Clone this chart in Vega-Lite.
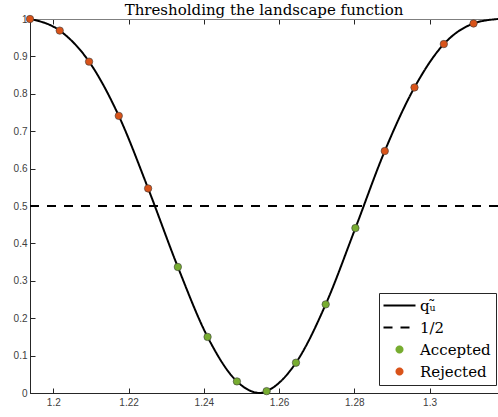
{
  "$schema": "https://vega.github.io/schema/vega-lite/v6.json",
  "width": 468,
  "height": 374,
  "autosize": "none",
  "padding": {"left": 30, "top": 19, "right": 0, "bottom": 24},
  "title": {"text": "Thresholding the landscape function", "font": "DejaVu Serif", "fontSize": 15, "fontWeight": "normal", "color": "#000000", "offset": -4, "frame": "group"},
  "config": {
    "view": {"stroke": "#262626", "strokeWidth": 1},
    "axis": {"grid": false, "domainColor": "#262626", "tickColor": "#262626", "labelColor": "#404040", "labelFont": "Liberation Sans", "labelFontSize": 10, "tickSize": -5, "title": null, "domainWidth": 1}
  },
  "datasets": {
    "curve": [
      {"x": 1.1938, "y": 1.0, "series": "q"},
      {"x": 1.2017, "y": 0.969, "series": "q"},
      {"x": 1.2095, "y": 0.886, "series": "q"},
      {"x": 1.2174, "y": 0.741, "series": "q"},
      {"x": 1.2252, "y": 0.547, "series": "q"},
      {"x": 1.2331, "y": 0.337, "series": "q"},
      {"x": 1.2410, "y": 0.150, "series": "q"},
      {"x": 1.2488, "y": 0.031, "series": "q"},
      {"x": 1.2550, "y": 0.0, "series": "q"},
      {"x": 1.2567, "y": 0.005, "series": "q"},
      {"x": 1.2645, "y": 0.081, "series": "q"},
      {"x": 1.2724, "y": 0.237, "series": "q"},
      {"x": 1.2803, "y": 0.441, "series": "q"},
      {"x": 1.2881, "y": 0.647, "series": "q"},
      {"x": 1.2960, "y": 0.817, "series": "q"},
      {"x": 1.3038, "y": 0.933, "series": "q"},
      {"x": 1.3117, "y": 0.988, "series": "q"},
      {"x": 1.3182, "y": 1.0, "series": "q"},
      {"x": 1.1938, "y": 0.5, "series": "1/2"},
      {"x": 1.3182, "y": 0.5, "series": "1/2"}
    ],
    "pts": [
      {"x": 1.1938, "y": 1.0, "series": "Rejected"},
      {"x": 1.2017, "y": 0.969, "series": "Rejected"},
      {"x": 1.2095, "y": 0.886, "series": "Rejected"},
      {"x": 1.2174, "y": 0.741, "series": "Rejected"},
      {"x": 1.2252, "y": 0.547, "series": "Rejected"},
      {"x": 1.2331, "y": 0.337, "series": "Accepted"},
      {"x": 1.2410, "y": 0.150, "series": "Accepted"},
      {"x": 1.2488, "y": 0.031, "series": "Accepted"},
      {"x": 1.2567, "y": 0.005, "series": "Accepted"},
      {"x": 1.2645, "y": 0.081, "series": "Accepted"},
      {"x": 1.2724, "y": 0.237, "series": "Accepted"},
      {"x": 1.2803, "y": 0.441, "series": "Accepted"},
      {"x": 1.2881, "y": 0.647, "series": "Rejected"},
      {"x": 1.2960, "y": 0.817, "series": "Rejected"},
      {"x": 1.3038, "y": 0.933, "series": "Rejected"},
      {"x": 1.3117, "y": 0.988, "series": "Rejected"}
    ]
  },
  "resolve": {"axis": {"x": "independent"}},
  "encoding": {
    "y": {"field": "y", "type": "quantitative", "scale": {"domain": [0, 1], "nice": false},
      "axis": {"values": [0, 0.1, 0.2, 0.3, 0.4, 0.5, 0.6, 0.7, 0.8, 0.9, 1], "format": "~g", "labelPadding": 8}}
  },
  "layer": [
    {
      "data": {"name": "curve"},
      "mark": {"type": "line", "interpolate": "monotone", "strokeWidth": 2},
      "encoding": {
        "x": {"field": "x", "type": "quantitative", "scale": {"domain": [1.1938, 1.3182], "nice": false, "zero": false},
          "axis": {"orient": "bottom", "values": [1.2, 1.22, 1.24, 1.26, 1.28, 1.3], "format": "~g", "labelPadding": 9}},
        "color": {"field": "series", "type": "nominal",
          "scale": {"domain": ["q", "1/2", "Accepted", "Rejected"], "range": ["#000000", "#000000", "#77AC30", "#D95319"]},
          "legend": {"title": null, "orient": "none", "legendX": 349, "legendY": 274, "labelFont": "DejaVu Serif", "labelFontSize": 15, "labelColor": "#000000", "strokeColor": "#262626", "fillColor": "#ffffff", "padding": 5, "rowPadding": 6, "symbolSize": 1024, "symbolOffset": 8, "labelOffset": 13,
            "labelExpr": "datum.label == 'q' ? 'qᵤ̃' : datum.label",
            "encode": {"symbols": {"update": {
              "size": {"signal": "datum.value == 'Accepted' || datum.value == 'Rejected' ? 55 : 1024"},
              "strokeWidth": {"signal": "datum.value == 'Accepted' || datum.value == 'Rejected' ? 0.6 : 2"}
            }}}}},
        "strokeDash": {"field": "series", "type": "nominal",
          "scale": {"domain": ["q", "1/2", "Accepted", "Rejected"], "range": [[1, 0], [9, 8], [1, 0], [1, 0]]}}
      }
    },
    {
      "data": {"name": "pts"},
      "mark": {"type": "point", "filled": true, "opacity": 1, "stroke": "#3a3a3a", "strokeWidth": 0.6, "size": 55},
      "encoding": {
        "x": {"field": "x", "type": "quantitative", "axis": {"orient": "top", "values": [1.2, 1.22, 1.24, 1.26, 1.28, 1.3], "labels": false, "domainColor": "#7f7f7f"}},
        "color": {"field": "series", "type": "nominal",
          "scale": {"domain": ["q", "1/2", "Accepted", "Rejected"], "range": ["#000000", "#000000", "#77AC30", "#D95319"]}},
        "shape": {"field": "series", "type": "nominal",
          "scale": {"domain": ["q", "1/2", "Accepted", "Rejected"], "range": ["stroke", "stroke", "circle", "circle"]}}
      }
    }
  ]
}
